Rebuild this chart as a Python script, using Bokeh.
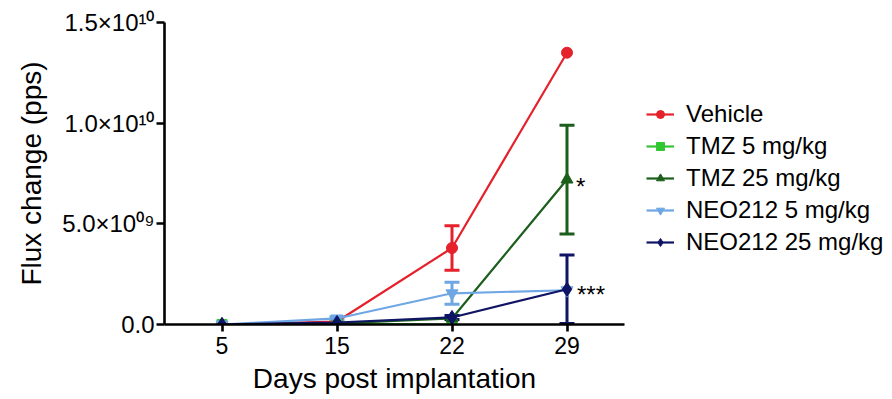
from bokeh.plotting import figure
from bokeh.models import (ColumnDataSource, FactorRange, Range1d, FixedTicker, Whisker,
                          TeeHead, Legend, LegendItem)
from bokeh.core.properties import value
from bokeh.embed import file_html
from bokeh.resources import INLINE

nan = float("nan")

# ---- data ----
days = ["5", "15", "22", "29"]
series_names = ["Vehicle", "TMZ 5 mg/kg", "TMZ 25 mg/kg", "NEO212 5 mg/kg", "NEO212 25 mg/kg"]
vehicle = [0.0, 0.15e9, 3.8e9, 13.5e9]
vehicle_err = [0, 0, 1.1e9, 0]
tmz5 = [0.0, 0.05e9, 0.0, nan]
tmz5_err = [0, 0, 0, 0]
tmz25 = [0.0, 0.05e9, 0.3e9, 7.2e9]
tmz25_err = [0, 0, 0, 2.7e9]
neo5 = [0.0, 0.3e9, 1.55e9, 1.7e9]
neo5_err = [0, 0.08e9, 0.55e9, 0]
neo25 = [0.0, 0.1e9, 0.35e9, 1.75e9]
neo25_err = [0, 0, 0.1e9, 1.7e9]

y_tick_values = [0, 5e9, 1e10, 1.5e10]
y_tick_labels = ["0.0", "5.0×10⁰⁹", "1.0×10¹⁰", "1.5×10¹⁰"]

sig_marks = ["*", "***"]          # attached to TMZ 25 and NEO212 25 at day 29

colors = ["#e5212b", "#33c633", "#1c5e1c", "#6fa6e4", "#0f1464"]
markers = ["circle", "square", "triangle", "inverted_triangle", "diamond"]
msizes = [11, 10, 12, 12, 14]

FONT = "Liberation Sans"

p = figure(frame_width=460, frame_height=302, output_backend="svg", toolbar_location=None,
           x_range=FactorRange(factors=days, range_padding=0),
           y_range=Range1d(0, 1.5e10),
           min_border_left=164, min_border_right=0, min_border_top=22, min_border_bottom=75)
p.outline_line_color = None
p.xgrid.visible = False
p.ygrid.visible = False
p.background_fill_color = "white"

for ax in (p.xaxis[0], p.yaxis[0]):
    ax.axis_line_width = 2.6
    ax.axis_line_color = "black"
    ax.major_tick_line_width = 2.6
    ax.major_tick_line_color = "black"
    ax.minor_tick_line_color = None
    ax.major_tick_in = 0
    ax.major_label_text_font = FONT
    ax.major_label_text_font_size = "23px"
    ax.major_label_text_color = "black"
    ax.axis_label_text_font = FONT
    ax.axis_label_text_font_size = "28px"
    ax.axis_label_text_font_style = "normal"
    ax.axis_label_text_color = "black"

p.xaxis.axis_label = "Days post implantation"
p.xaxis.major_tick_out = 7
p.xaxis.major_label_standoff = 5
p.xaxis.axis_label_standoff = 6
p.xaxis.group_text_font_size = "0px"

p.yaxis.axis_label = "Flux change (pps)"
p.yaxis.major_tick_out = 8
p.yaxis.major_label_standoff = 2
p.yaxis.axis_label_standoff = 12
p.yaxis.ticker = FixedTicker(ticks=y_tick_values)
p.yaxis.major_label_overrides = {int(v): lab for v, lab in zip(y_tick_values, y_tick_labels)}
p.yaxis.major_label_text_font_size = "24px"

all_vals = [vehicle, tmz5, tmz25, neo5, neo25]
all_errs = [vehicle_err, tmz5_err, tmz25_err, neo5_err, neo25_err]

items = []
for name, vals, errs, c, m, s in zip(series_names, all_vals, all_errs, colors, markers, msizes):
    src = ColumnDataSource(dict(x=days, y=vals))
    wx, wu, wl = [], [], []
    for d, v, e in zip(days, vals, errs):
        if e > 0:
            wx.append(d); wu.append(v + e); wl.append(max(v - e, 0.0))
    if wx:
        wsrc = ColumnDataSource(dict(x=wx, upper=wu, lower=wl))
        w = Whisker(source=wsrc, base="x", upper="upper", lower="lower",
                    line_color=c, line_width=3,
                    upper_head=TeeHead(size=15, line_color=c, line_width=3),
                    lower_head=TeeHead(size=15, line_color=c, line_width=3))
        p.add_layout(w)
    lr = p.line("x", "y", source=src, line_color=c, line_width=2.2)
    sr = p.scatter("x", "y", source=src, marker=m, size=s, fill_color=c, line_color=c)
    items.append(LegendItem(label=name, renderers=[lr, sr]))

# significance marks
p.text(x=[days[3], days[3]], y=[tmz25[3], neo25[3]], text=sig_marks,
       x_offset=[9, 10], y_offset=[7, 5],
       text_font=value(FONT), text_font_size="24px", text_color="black",
       text_align="left", text_baseline="middle")

legend = Legend(items=items, location=(22, 68), orientation="vertical",
                label_text_font=FONT, label_text_font_size="24px", label_text_color="black",
                glyph_width=28, glyph_height=20, label_height=20, label_standoff=12,
                spacing=4, padding=0, margin=0,
                border_line_color=None, background_fill_alpha=0)
p.add_layout(legend, "right")

open("out.html", "w").write(file_html(p, INLINE))
